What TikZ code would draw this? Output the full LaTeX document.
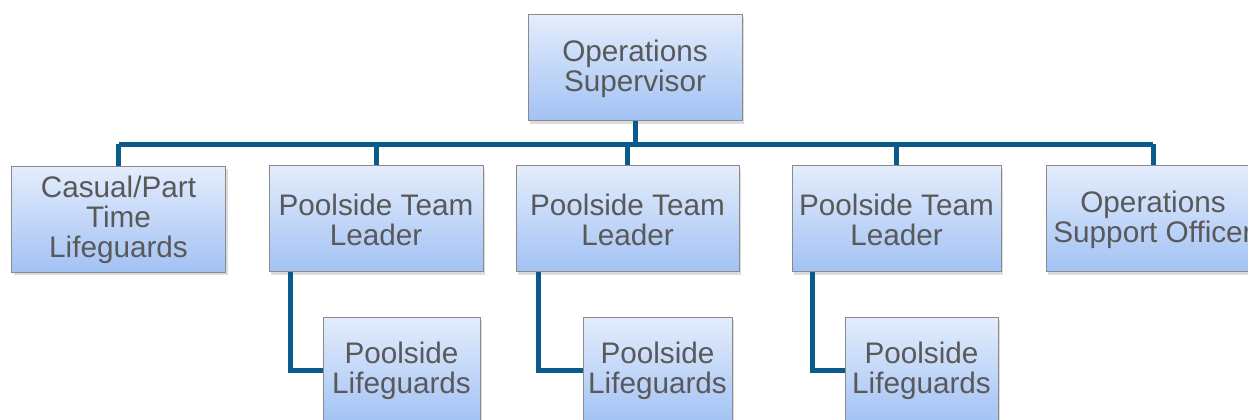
\documentclass[tikz,border=0pt]{standalone}
\usepackage{fontspec}
\setmainfont{Liberation Sans}
\usetikzlibrary{shadows}
\definecolor{linkblue}{HTML}{0B5A8C}
\definecolor{boxtop}{HTML}{E4EDFC}
\definecolor{boxbot}{HTML}{A2C2F4}
\definecolor{boxline}{HTML}{8A8A8A}
\definecolor{txt}{HTML}{595959}
\newcommand{\tstrut}{\rule{0pt}{24pt}}
\begin{document}
\begin{tikzpicture}[x=1pt,y=-1pt,
  orgbox/.style={draw=boxline, line width=0.9pt, top color=boxtop, bottom color=boxbot,
    minimum height=106pt, inner sep=2pt, align=center, text=txt,
    font=\fontsize{29.7}{30}\selectfont,
    drop shadow={opacity=0.28, shadow xshift=2pt, shadow yshift=-3pt}},
  link/.style={draw=linkblue, line width=5pt}]
\useasboundingbox (0,0) rectangle (1248,420);
\clip (0,0) rectangle (1248,420);
\node[orgbox, minimum width=214pt] (top) at (635,67.5) {\tstrut Operations\\Supervisor};
\node[orgbox, minimum width=214pt] (casual) at (118.5,219) {\tstrut Casual/Part\\Time\\Lifeguards};
\node[orgbox, minimum width=214pt] (ptl1) at (376,218.5) {\tstrut Poolside Team\\Leader};
\node[orgbox, minimum width=223pt] (ptl2) at (627.5,218.5) {\tstrut Poolside Team\\Leader};
\node[orgbox, minimum width=209pt] (ptl3) at (896.5,218.5) {\tstrut Poolside Team\\Leader};
\node[orgbox, minimum width=214pt] (oso) at (1153,218.5) {\tstrut Operations\\Support Officer};
\node[orgbox, minimum width=157pt] (pl1) at (401.5,370) {\tstrut Poolside\\Lifeguards};
\node[orgbox, minimum width=149pt] (pl2) at (657.5,370) {\tstrut Poolside\\Lifeguards};
\node[orgbox, minimum width=153pt] (pl3) at (921.5,370) {\tstrut Poolside\\Lifeguards};
\coordinate (bar) at (0,144);
\draw[link] (top.south) -- (top.south |- bar);
\draw[link] (casual.north |- bar) -- (oso.north |- bar);
\draw[link] (casual.north |- bar) -- (casual.north);
\draw[link] (ptl1.north |- bar) -- (ptl1.north);
\draw[link] (ptl2.north |- bar) -- (ptl2.north);
\draw[link] (ptl3.north |- bar) -- (ptl3.north);
\draw[link] (oso.north |- bar) -- (oso.north);
\draw[link] ([xshift=22pt]ptl1.south west) |- (pl1.west);
\draw[link] ([xshift=23pt]ptl2.south west) |- (pl2.west);
\draw[link] ([xshift=21pt]ptl3.south west) |- (pl3.west);
\end{tikzpicture}
\end{document}
